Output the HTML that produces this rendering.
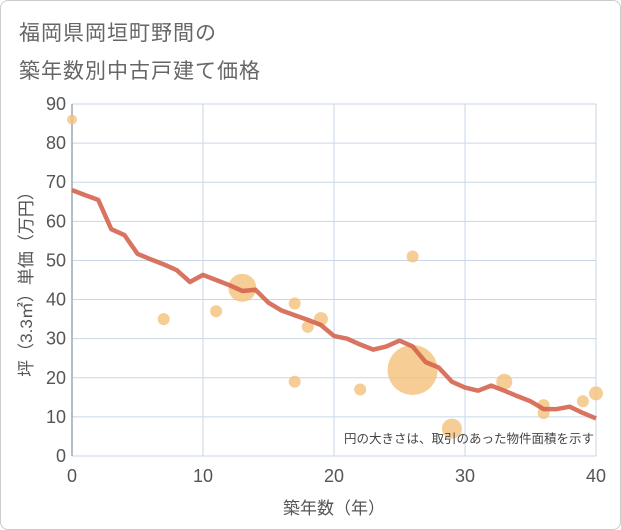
<!DOCTYPE html>
<html><head><meta charset="utf-8"><style>
body{margin:0;background:#fff;font-family:"Liberation Sans","Noto Sans CJK JP",sans-serif;}
#wrap{position:relative;width:619px;height:528px;border:1px solid #ccc;border-radius:8px;overflow:hidden;background:#fff}
.t{position:absolute;left:18px;font-size:21px;color:#666;letter-spacing:1px}
</style></head><body>
<div id="wrap">
<div class="t" style="top:16px">福岡県岡垣町野間の</div>
<div class="t" style="top:54px">築年数別中古戸建て価格</div>
<svg id="c" width="621" height="530" style="position:absolute;left:-1px;top:-1px"></svg>
</div>
<script>
const years=[0,1,2,3,4,5,6,7,8,9,10,11,12,13,14,15,16,17,18,19,20,21,22,23,24,25,26,27,28,29,30,31,32,33,34,35,36,37,38,39,40];
const avgPrice=[68,66.7,65.5,58,56.5,51.7,50.3,49,47.5,44.5,46.3,45,43.7,42.2,42.5,39.2,37.2,36,34.8,33.5,30.7,30,28.5,27.2,28,29.5,28,24,22.6,19,17.5,16.7,18,16.7,15.3,14,12,12,12.6,11,9.6];
const bubX=[0,7,11,13,17,17,18,19,22,26,26,29,33,36,36,39,40];
const bubY=[86,35,37,43,39,19,33,35,17,51,22,7,19,13,11,14,16];
const bubR=[5,6,6,14,6,6,6,7,6,6,25,10,8,6,6,6,7];
const xTicks=[0,10,20,30,40];
const yTicks=[0,10,20,30,40,50,60,70,80,90];
const NS="http://www.w3.org/2000/svg",svg=document.getElementById('c');
const X0=72,X1=596,Y0=456,Y1=104;
const sx=v=>X0+(X1-X0)*v/40, sy=v=>Y0-(Y0-Y1)*v/90;
function el(t,a,p){const e=document.createElementNS(NS,t);for(const k in a)e.setAttribute(k,a[k]);(p||svg).appendChild(e);return e;}
yTicks.forEach(v=>{
 const l=el('line',{x1:X0,x2:X1,y1:sy(v),y2:sy(v),stroke:'#c8d6e6','stroke-width':1});
 
 
 const t=el('text',{x:X0-6,y:sy(v)+6,'text-anchor':'end','font-size':18,fill:'#555'});t.textContent=v;
 
 
});
xTicks.forEach(v=>{
 const l=el('line',{x1:sx(v),x2:sx(v),y1:Y1,y2:Y0,stroke:'#c8d6e6','stroke-width':1});
 
 
 const t=el('text',{x:sx(v),y:Y0+26,'text-anchor':'middle','font-size':18,fill:'#555'});t.textContent=v;
 
 
});
const ax=el('line',{x1:X0,x2:X0,y1:Y1,y2:Y0,stroke:'#9aa8b8','stroke-width':1.5});


bubX.forEach((x,i)=>{
 const c=el('circle',{cx:sx(x),cy:sy(bubY[i]),r:bubR[i],fill:'#f3c07a','fill-opacity':0.8});
 
 
});
const p=el('polyline',{points:years.map((y,i)=>sx(y)+','+sy(avgPrice[i])).join(' '),fill:'none',stroke:'#d4654e','stroke-width':4.5,'stroke-linejoin':'round','stroke-opacity':0.9});


const n=el('text',{x:594,y:443,'text-anchor':'end','font-size':12.5,fill:'#444'});n.textContent='円の大きさは、取引のあった物件面積を示す';


const xt=el('text',{x:334,y:514,'text-anchor':'middle','font-size':17,fill:'#555'});xt.textContent='築年数（年）';


const yt=el('text',{x:0,y:0,'text-anchor':'middle','font-size':17,fill:'#555',transform:'translate(32,280) rotate(-90)'});yt.textContent='坪（3.3㎡）単価（万円）';


</script>
</body></html>
